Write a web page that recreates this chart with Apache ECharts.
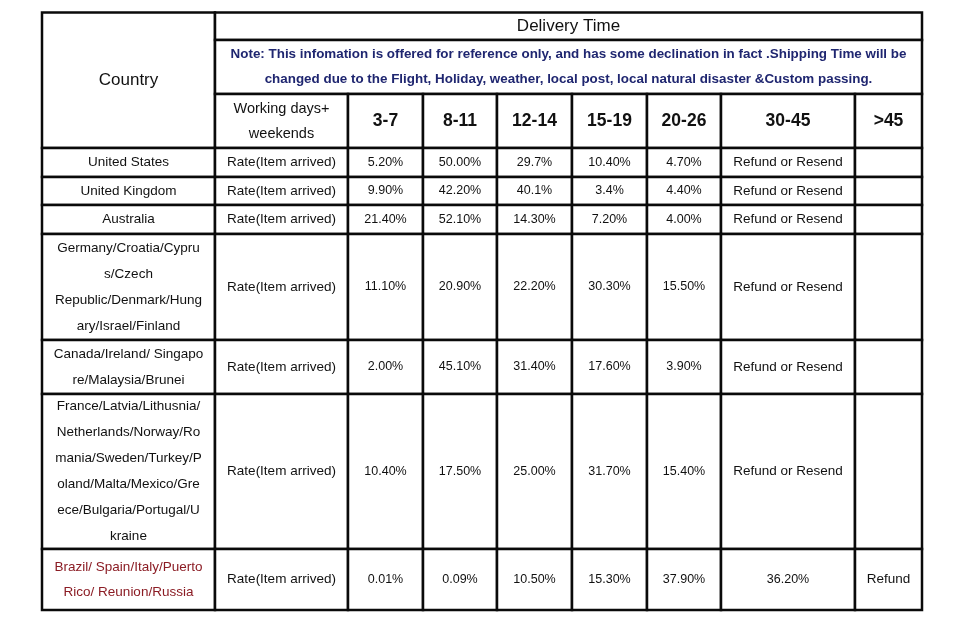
<!DOCTYPE html>
<html>
<head>
<meta charset="utf-8">
<script src="https://cdn.jsdelivr.net/npm/echarts@6/dist/echarts.min.js"></script>
<style>html,body{margin:0;padding:0;background:#fff}#c{width:960px;height:620px}</style>
</head>
<body>
<div id="c"></div>
<script>
// ---- data ----
const title = "Delivery Time";
const countryHeader = "Country";
const note = "Note: This infomation is offered for reference only, and has some declination in fact .Shipping Time will be\nchanged due to the Flight, Holiday, weather, local post, local natural disaster &Custom passing.";
const unitHeader = "Working days+\nweekends";
const dayRanges = ["3-7", "8-11", "12-14", "15-19", "20-26", "30-45", ">45"];
const countries = [
  "United States",
  "United Kingdom",
  "Australia",
  "Germany/Croatia/Cypru\ns/Czech\nRepublic/Denmark/Hung\nary/Israel/Finland",
  "Canada/Ireland/ Singapo\nre/Malaysia/Brunei",
  "France/Latvia/Lithusnia/\nNetherlands/Norway/Ro\nmania/Sweden/Turkey/P\noland/Malta/Mexico/Gre\nece/Bulgaria/Portugal/U\nkraine",
  "Brazil/ Spain/Italy/Puerto\nRico/ Reunion/Russia"
];
const rateLabel = "Rate(Item arrived)";
const rate3_7   = ["5.20%", "9.90%", "21.40%", "11.10%", "2.00%", "10.40%", "0.01%"];
const rate8_11  = ["50.00%", "42.20%", "52.10%", "20.90%", "45.10%", "17.50%", "0.09%"];
const rate12_14 = ["29.7%", "40.1%", "14.30%", "22.20%", "31.40%", "25.00%", "10.50%"];
const rate15_19 = ["10.40%", "3.4%", "7.20%", "30.30%", "17.60%", "31.70%", "15.30%"];
const rate20_26 = ["4.70%", "4.40%", "4.00%", "15.50%", "3.90%", "15.40%", "37.90%"];
const rate30_45 = ["Refund or Resend", "Refund or Resend", "Refund or Resend", "Refund or Resend", "Refund or Resend", "Refund or Resend", "36.20%"];
const rate45    = ["", "", "", "", "", "", "Refund"];
const highlightRows = [6];

// ---- layout (cell edges, px) ----
const colEdges = [42, 215, 348, 423, 497, 572, 647, 721, 855, 922];
const rowEdges = [12.5, 40, 94, 148, 177, 205, 234, 340, 394, 549, 610];
const FONT = "'Liberation Sans', Arial, sans-serif";
const INK = '#111111';
const styles = {
  country:  {fontSize: 17, fontWeight: 'normal', fill: INK, lineHeight: 20},
  title:    {fontSize: 17, fontWeight: 'normal', fill: INK, lineHeight: 20},
  note:     {fontSize: 13.4, fontWeight: 'bold', fill: '#1f2670', lineHeight: 25},
  unit:     {fontSize: 14.5, fontWeight: 'normal', fill: INK, lineHeight: 25},
  range:    {fontSize: 17.5, fontWeight: 'bold', fill: INK, lineHeight: 20},
  name:     {fontSize: 13.5, fontWeight: 'normal', fill: INK, lineHeight: 26},
  nameRed:  {fontSize: 13.5, fontWeight: 'normal', fill: '#8b1c24', lineHeight: 25},
  rate:     {fontSize: 13.5, fontWeight: 'normal', fill: INK, lineHeight: 20},
  pct:      {fontSize: 12.5, fontWeight: 'normal', fill: INK, lineHeight: 20},
  text:     {fontSize: 13.5, fontWeight: 'normal', fill: INK, lineHeight: 20}
};

// ---- build cells ----
const cells = [];
function cell(c0, r0, c1, r1, text, kind) { cells.push({value: [c0, r0, c1, r1], text: text, kind: kind}); }
cell(0, 0, 1, 3, countryHeader, 'country');
cell(1, 0, 9, 1, title, 'title');
cell(1, 1, 9, 2, note, 'note');
cell(1, 2, 2, 3, unitHeader, 'unit');
dayRanges.forEach((d, i) => cell(2 + i, 2, 3 + i, 3, d, 'range'));
const valueCols = [rate3_7, rate8_11, rate12_14, rate15_19, rate20_26, rate30_45, rate45];
countries.forEach((name, r) => {
  const row = 3 + r;
  cell(0, row, 1, row + 1, name, highlightRows.includes(r) ? 'nameRed' : 'name');
  cell(1, row, 2, row + 1, rateLabel, 'rate');
  valueCols.forEach((col, j) => {
    const t = col[r];
    cell(2 + j, row, 3 + j, row + 1, t, /%$/.test(t) ? 'pct' : 'text');
  });
});

const chart = echarts.init(document.getElementById('c'), null, {renderer: 'canvas'});
chart.setOption({
  backgroundColor: '#ffffff',
  animation: false,
  grid: {left: 0, right: 0, top: 0, bottom: 0},
  xAxis: {type: 'value', min: 0, max: 960, show: false},
  yAxis: {type: 'value', min: 0, max: 620, inverse: true, show: false},
  series: [{
    type: 'custom',
    clip: false,
    data: cells,
    renderItem: function (params, api) {
      const c = cells[params.dataIndex];
      const p0 = api.coord([colEdges[api.value(0)], rowEdges[api.value(1)]]);
      const p1 = api.coord([colEdges[api.value(2)], rowEdges[api.value(3)]]);
      const s = styles[c.kind];
      return {
        type: 'rect',
        shape: {x: p0[0], y: p0[1], width: p1[0] - p0[0], height: p1[1] - p0[1]},
        style: {fill: '#ffffff', stroke: '#0a0a0a', lineWidth: 2.5},
        textContent: {
          style: {
            text: c.text,
            fontFamily: FONT,
            fontSize: s.fontSize,
            fontWeight: s.fontWeight,
            fill: s.fill,
            lineHeight: s.lineHeight,
            align: 'center',
            verticalAlign: 'middle'
          }
        },
        textConfig: {position: 'inside'}
      };
    }
  }]
});
</script>
</body>
</html>
